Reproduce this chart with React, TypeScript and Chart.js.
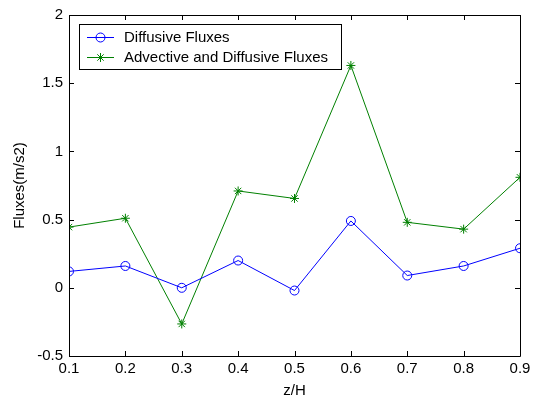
import React, { useEffect, useRef } from 'react';
import { Chart, registerables } from 'chart.js';

Chart.register(...registerables);

const zH = [0.1, 0.2, 0.3, 0.4, 0.5, 0.6, 0.7, 0.8, 0.9];
const diffusive = [0.12, 0.16, 0.0, 0.2, -0.02, 0.49, 0.09, 0.16, 0.29];
const advDiff = [0.445, 0.51, -0.265, 0.71, 0.655, 1.63, 0.48, 0.43, 0.81];
const xTicks = [0.1, 0.2, 0.3, 0.4, 0.5, 0.6, 0.7, 0.8, 0.9];
const xTickLabels = ['0.1', '0.2', '0.3', '0.4', '0.5', '0.6', '0.7', '0.8', '0.9'];
const yTicks = [-0.5, 0, 0.5, 1, 1.5, 2];
const yTickLabels = ['-0.5', '0', '0.5', '1', '1.5', '2'];
const seriesNames = ['Diffusive Fluxes', 'Advective and Diffusive Fluxes'];
const seriesColors = ['#0000ff', '#008000'];
const xTitle = 'z/H';
const yTitle = 'Fluxes(m/s2)';

const FONT = '"Liberation Sans", Arial, sans-serif';

function drawMarker(ctx: CanvasRenderingContext2D, style: string, r: number, x: number, y: number) {
  ctx.beginPath();
  if (style === 'circle') {
    ctx.arc(x, y, r, 0, Math.PI * 2);
  } else {
    const d = r * Math.SQRT1_2;
    ctx.moveTo(x - r, y); ctx.lineTo(x + r, y);
    ctx.moveTo(x, y - r); ctx.lineTo(x, y + r);
    ctx.moveTo(x - d, y - d); ctx.lineTo(x + d, y + d);
    ctx.moveTo(x - d, y + d); ctx.lineTo(x + d, y - d);
  }
  ctx.stroke();
}

const framePlugin = {
  id: 'matlabFrame',
  afterDraw(chart: any) {
    const { ctx, chartArea } = chart;
    const { left, right, top, bottom } = chartArea;
    const xs = chart.scales.x;
    const ys = chart.scales.y;
    ctx.save();
    ctx.strokeStyle = '#000';
    ctx.lineWidth = 1;
    ctx.beginPath();
    ctx.rect(Math.round(left) + 0.5, Math.round(top) + 0.5, Math.round(right - left), Math.round(bottom - top));
    ctx.stroke();
    const tl = 5;
    ctx.beginPath();
    xTicks.forEach((v) => {
      const px = Math.round(xs.getPixelForValue(v)) + 0.5;
      ctx.moveTo(px, bottom);
      ctx.lineTo(px, bottom - tl);
      ctx.moveTo(px, top);
      ctx.lineTo(px, top + tl);
    });
    yTicks.forEach((v) => {
      const py = Math.round(ys.getPixelForValue(v)) + 0.5;
      ctx.moveTo(left, py);
      ctx.lineTo(left + tl, py);
      ctx.moveTo(right, py);
      ctx.lineTo(right - tl, py);
    });
    ctx.stroke();

    // axis titles
    ctx.fillStyle = '#000';
    ctx.font = '15px ' + FONT;
    ctx.textAlign = 'center';
    ctx.textBaseline = 'middle';
    ctx.fillText(xTitle, (left + right) / 2, 391);
    ctx.save();
    ctx.translate(20, (top + bottom) / 2);
    ctx.rotate(-Math.PI / 2);
    ctx.fillText(yTitle, 0, 0);
    ctx.restore();

    // legend
    const bx = 79.5, by = 24.5, bw = 262, bh = 45;
    ctx.fillStyle = '#fff';
    ctx.fillRect(bx, by, bw, bh);
    ctx.strokeStyle = '#000';
    ctx.strokeRect(bx, by, bw, bh);
    const rows = [37, 57];
    chart.data.datasets.forEach((ds: any, i: number) => {
      const y = rows[i] + 0.5;
      ctx.strokeStyle = ds.borderColor;
      ctx.lineWidth = 1;
      ctx.beginPath();
      ctx.moveTo(87, y);
      ctx.lineTo(114, y);
      ctx.stroke();
      drawMarker(ctx, ds.pointStyle, ds.pointRadius, 100.5, y);
      ctx.fillStyle = '#000';
      ctx.textAlign = 'left';
      ctx.textBaseline = 'middle';
      ctx.fillText(ds.label, 124, rows[i] + 1);
    });
    ctx.restore();
  },
};

export default function App() {
  const ref = useRef<HTMLCanvasElement | null>(null);
  useEffect(() => {
    document.body.style.margin = '0';
    const canvas = ref.current!;
    const chart = new Chart(canvas, {
      type: 'line',
      data: {
        datasets: [
          {
            label: seriesNames[0],
            data: zH.map((x, i) => ({ x, y: diffusive[i] })),
            borderColor: seriesColors[0],
            backgroundColor: 'rgba(0,0,0,0)',
            borderWidth: 1,
            pointStyle: 'circle',
            pointRadius: 4.5,
            pointBorderWidth: 1,
            pointBorderColor: seriesColors[0],
            pointBackgroundColor: 'rgba(0,0,0,0)',
            tension: 0,
          },
          {
            label: seriesNames[1],
            data: zH.map((x, i) => ({ x, y: advDiff[i] })),
            borderColor: seriesColors[1],
            backgroundColor: 'rgba(0,0,0,0)',
            borderWidth: 1,
            pointStyle: 'star',
            pointRadius: 4.5,
            pointBorderWidth: 1,
            pointBorderColor: seriesColors[1],
            pointBackgroundColor: seriesColors[1],
            tension: 0,
          },
        ],
      },
      options: {
        animation: false,
        responsive: false,
        devicePixelRatio: 1,
        layout: { padding: { left: 0, right: 19, top: 14, bottom: 0 } },
        plugins: { legend: { display: false }, tooltip: { enabled: false } },
        scales: {
          x: {
            type: 'linear',
            min: 0.1,
            max: 0.9,
            afterBuildTicks: (s: any) => {
              s.ticks = xTicks.map((v) => ({ value: v }));
            },
            afterFit: (s: any) => {
              s.height = 43;
            },
            ticks: {
              autoSkip: false,
              maxRotation: 0,
              padding: 4,
              color: '#000',
              font: { family: FONT, size: 15 },
              callback: (_v: any, i: number) => xTickLabels[i],
            },
            grid: { display: false, drawTicks: false },
            border: { display: false },
          },
          y: {
            type: 'linear',
            min: -0.5,
            max: 2,
            afterBuildTicks: (s: any) => {
              s.ticks = yTicks.map((v) => ({ value: v }));
            },
            afterFit: (s: any) => {
              s.width = 69;
            },
            ticks: {
              autoSkip: false,
              padding: 6,
              color: '#000',
              font: { family: FONT, size: 15 },
              callback: (_v: any, i: number) => yTickLabels[i],
            },
            grid: { display: false, drawTicks: false },
            border: { display: false },
          },
        },
      },
      plugins: [framePlugin],
    });
    return () => chart.destroy();
  }, []);
  return (
    <div style={{ width: 539, height: 399, background: '#fff' }}>
      <canvas ref={ref} width={539} height={399} style={{ display: 'block' }} />
    </div>
  );
}
